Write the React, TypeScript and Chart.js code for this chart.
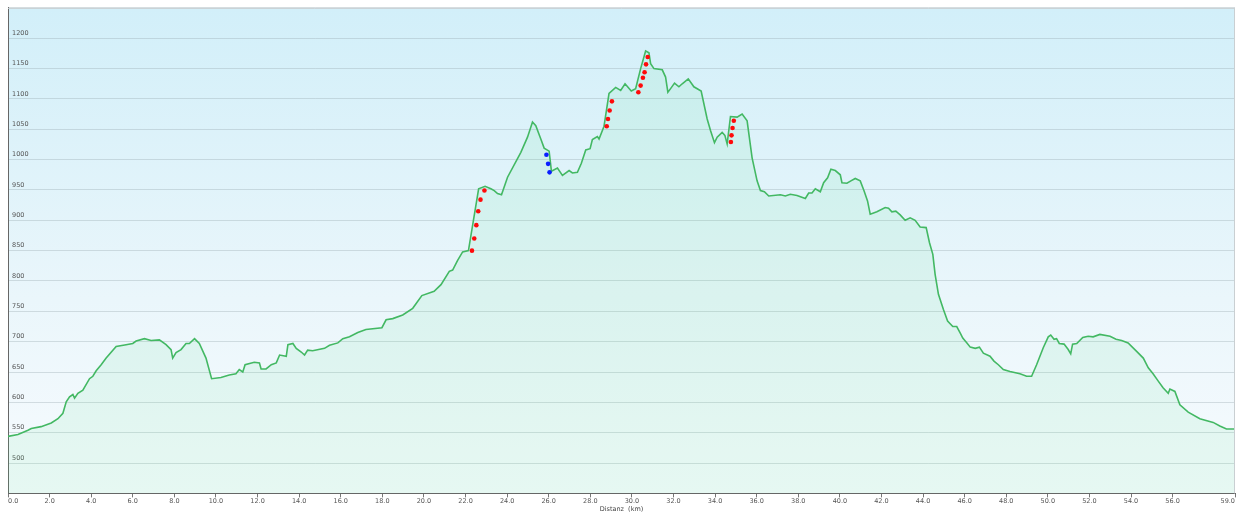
import React, { useEffect, useRef } from "react";
import { Chart, registerables } from "chart.js";

Chart.register(...registerables);

// Distance along route (km)
const DIST_KM = [
  0, 0.48, 0.96, 1.12, 1.59, 2.08, 2.4, 2.64, 2.8, 2.96, 3.12, 3.2, 3.36, 3.6, 3.92, 4.08, 4.24, 4.48, 4.72, 5.2,
  5.68, 6.0, 6.16, 6.56, 6.88, 7.28, 7.6, 7.84, 7.92, 8.08, 8.32, 8.56, 8.72, 8.97, 9.2, 9.52, 9.79, 10.24, 10.64, 10.96,
  11.12, 11.29, 11.4, 11.84, 12.09, 12.17, 12.41, 12.66, 12.9, 13.06, 13.38, 13.46, 13.7, 13.86, 14.1, 14.26, 14.41, 14.65, 15.22, 15.46,
  15.86, 16.1, 16.42, 16.82, 17.21, 17.98, 18.18, 18.5, 18.98, 19.46, 19.9, 20.49, 20.82, 21.22, 21.38, 21.62, 21.86, 22.14, 22.63, 22.94,
  23.22, 23.38, 23.54, 23.73, 24.02, 24.66, 24.98, 25.22, 25.38, 25.62, 25.78, 26.02, 26.13, 26.42, 26.66, 26.98, 27.14, 27.38, 27.57, 27.78,
  27.99, 28.1, 28.34, 28.42, 28.66, 28.9, 29.22, 29.46, 29.67, 29.97, 30.18, 30.42, 30.66, 30.82, 30.9, 31.06, 31.46, 31.62, 31.73, 31.86,
  32.05, 32.26, 32.42, 32.71, 32.98, 33.33, 33.62, 33.78, 33.97, 34.1, 34.34, 34.47, 34.58, 34.74, 35.06, 35.3, 35.54, 35.78, 36.02, 36.18,
  36.37, 36.58, 37.14, 37.38, 37.62, 37.94, 38.34, 38.5, 38.66, 38.82, 39.06, 39.22, 39.41, 39.57, 39.78, 40.02, 40.1, 40.34, 40.53, 40.74,
  40.98, 41.17, 41.33, 41.46, 41.78, 42.18, 42.34, 42.5, 42.69, 42.9, 43.14, 43.38, 43.62, 43.86, 44.15, 44.31, 44.47, 44.58, 44.74, 44.98,
  45.18, 45.43, 45.62, 45.79, 45.91, 46.11, 46.27, 46.51, 46.71, 46.9, 47.22, 47.41, 47.62, 47.86, 48.18, 48.66, 48.98, 49.22, 49.46, 49.78,
  50.02, 50.14, 50.3, 50.42, 50.55, 50.78, 50.98, 51.1, 51.19, 51.39, 51.68, 51.94, 52.18, 52.5, 52.99, 53.28, 53.55, 53.86, 54.27, 54.59,
  54.83, 55.06, 55.31, 55.54, 55.79, 55.87, 56.11, 56.35, 56.75, 57.31, 57.95, 58.27, 58.59, 59.0,
];

// Elevation (m)
const ELEV_M = [
  544, 547, 554, 557, 560, 566, 573, 582, 601, 609, 613, 607, 615, 620, 639, 643, 652, 662, 673, 692,
  695, 697, 701, 705, 702, 703, 695, 687, 673, 682, 687, 697, 697, 705, 697, 673, 639, 641, 645, 647,
  654, 650, 662, 666, 665, 655, 655, 662, 665, 678, 676, 695, 697, 689, 683, 678, 686, 685, 689, 694,
  698, 705, 708, 715, 720, 723, 736, 738, 744, 755, 776, 783, 794, 816, 818, 834, 848, 850, 952, 956,
  952, 949, 944, 942, 971, 1012, 1037, 1062, 1056, 1034, 1019, 1014, 981, 986, 974, 982, 978, 979, 994, 1016,
  1018, 1033, 1038, 1034, 1055, 1109, 1119, 1114, 1125, 1113, 1117, 1150, 1179, 1176, 1158, 1150, 1148, 1136, 1111, 1117,
  1126, 1120, 1125, 1133, 1120, 1113, 1067, 1048, 1028, 1037, 1045, 1040, 1026, 1071, 1070, 1075, 1064, 1003, 965, 949,
  947, 940, 942, 940, 943, 941, 936, 945, 945, 952, 947, 962, 970, 984, 982, 975, 962, 961, 965, 969,
  965, 948, 932, 910, 914, 921, 920, 914, 915, 909, 900, 904, 900, 889, 888, 863, 844, 811, 778, 753,
  734, 725, 725, 714, 706, 698, 691, 689, 691, 681, 676, 668, 662, 654, 651, 647, 643, 643, 662, 690,
  708, 711, 704, 705, 697, 696, 687, 680, 696, 697, 707, 709, 708, 712, 709, 704, 702, 698, 684, 673,
  657, 647, 635, 624, 615, 622, 618, 596, 584, 573, 567, 561, 556, 556,
];

// Marker points (steep sections)
const RED_KM = [22.31, 22.42, 22.52, 22.61, 22.72, 22.91, 28.79, 28.85, 28.93, 29.04, 30.31, 30.42, 30.53, 30.61, 30.68, 30.76, 34.76, 34.79, 34.84, 34.9];
const RED_M = [850, 870, 892, 915, 934, 949, 1055, 1067, 1081, 1096, 1111, 1122, 1135, 1144, 1157, 1169, 1029, 1040, 1052, 1064];
const BLUE_KM = [25.89, 25.97, 26.04];
const BLUE_M = [1008, 993, 979];

const X_TICKS = [0, 2, 4, 6, 8, 10, 12, 14, 16, 18, 20, 22, 24, 26, 28, 30, 32, 34, 36, 38, 40, 42, 44, 46, 48, 50, 52, 54, 56, 59];
const Y_MIN = 450;
const Y_MAX = 1250;
const Y_STEP = 50;
const X_TITLE = "Distanz  (km)";

const FONT = { family: "'DejaVu Sans', Verdana, sans-serif", size: 6.5 };

const bgPlugin = {
  id: "plotBg",
  beforeDraw(chart: any) {
    const { ctx, chartArea: a } = chart;
    const g = ctx.createLinearGradient(0, a.top, 0, a.bottom);
    g.addColorStop(0, "#d2eff9");
    g.addColorStop(0.6, "#eaf6fb");
    g.addColorStop(1, "#f7fbfe");
    ctx.save();
    ctx.fillStyle = g;
    ctx.fillRect(a.left, a.top, a.right - a.left, a.bottom - a.top);
    ctx.restore();
  },
  afterDraw(chart: any) {
    const { ctx, chartArea: a } = chart;
    ctx.save();
    ctx.strokeStyle = "#c9cfd2";
    ctx.lineWidth = 1;
    ctx.beginPath();
    ctx.moveTo(a.left, a.top + 0.5);
    ctx.lineTo(a.right, a.top + 0.5);
    ctx.moveTo(a.right - 0.5, a.top);
    ctx.lineTo(a.right - 0.5, a.bottom);
    ctx.stroke();
    ctx.restore();
  },
};

export default function App() {
  const ref = useRef<HTMLCanvasElement | null>(null);

  useEffect(() => {
    if (!ref.current) return;
    const line = DIST_KM.map((x, i) => ({ x, y: ELEV_M[i] }));
    const red = RED_KM.map((x, i) => ({ x, y: RED_M[i] }));
    const blue = BLUE_KM.map((x, i) => ({ x, y: BLUE_M[i] }));

    const chart = new Chart(ref.current, {
      type: "line",
      data: {
        datasets: [
          {
            type: "scatter",
            data: red,
            pointRadius: 2.3,
            pointBackgroundColor: "#ff0a0a",
            pointBorderWidth: 0,
            showLine: false,
          } as any,
          {
            type: "scatter",
            data: blue,
            pointRadius: 2.3,
            pointBackgroundColor: "#0a1eff",
            pointBorderWidth: 0,
            showLine: false,
          } as any,
          {
            data: line,
            borderColor: "#43b863",
            borderWidth: 1.6,
            backgroundColor: "rgba(70, 220, 120, 0.09)",
            fill: "start",
            pointRadius: 0,
            tension: 0,
          },
        ],
      },
      options: {
        animation: false,
        responsive: false,
        devicePixelRatio: 1,
        layout: { padding: { left: 0, top: 7, right: 2, bottom: 0 } },
        plugins: { legend: { display: false }, tooltip: { enabled: false } },
        scales: {
          x: {
            type: "linear",
            min: 0,
            max: 59,
            afterBuildTicks: (s: any) => {
              s.ticks = X_TICKS.map((v) => ({ value: v }));
            },
            ticks: {
              autoSkip: false,
              maxRotation: 0,
              align: "inner",
              padding: 0,
              color: "#555",
              font: FONT,
              callback: (v: any) => Number(v).toFixed(1),
            },
            grid: { drawOnChartArea: false, drawTicks: true, tickLength: 4, color: "#777" },
            border: { color: "#666", width: 1 },
            title: {
              display: true,
              text: X_TITLE,
              color: "#444",
              font: FONT,
              padding: { top: 0, bottom: 0 },
            },
          },
          y: {
            min: Y_MIN,
            max: Y_MAX,
            ticks: {
              stepSize: Y_STEP,
              mirror: true,
              padding: 4,
              labelOffset: -5,
              color: "#555",
              font: FONT,
              callback: (v: any) => (v === Y_MIN || v === Y_MAX ? "" : String(v)),
            },
            grid: { drawTicks: false, color: "rgba(150,165,172,0.35)", lineWidth: 1 },
            border: { color: "#666", width: 1 },
          },
        },
      },
      plugins: [bgPlugin],
    } as any);
    return () => chart.destroy();
  }, []);

  return (
    <div style={{ position: "fixed", left: 0, top: 0, width: 1239, height: 513, background: "#fff" }}>
      <canvas ref={ref} width={1239} height={513} style={{ display: "block" }} />
    </div>
  );
}
